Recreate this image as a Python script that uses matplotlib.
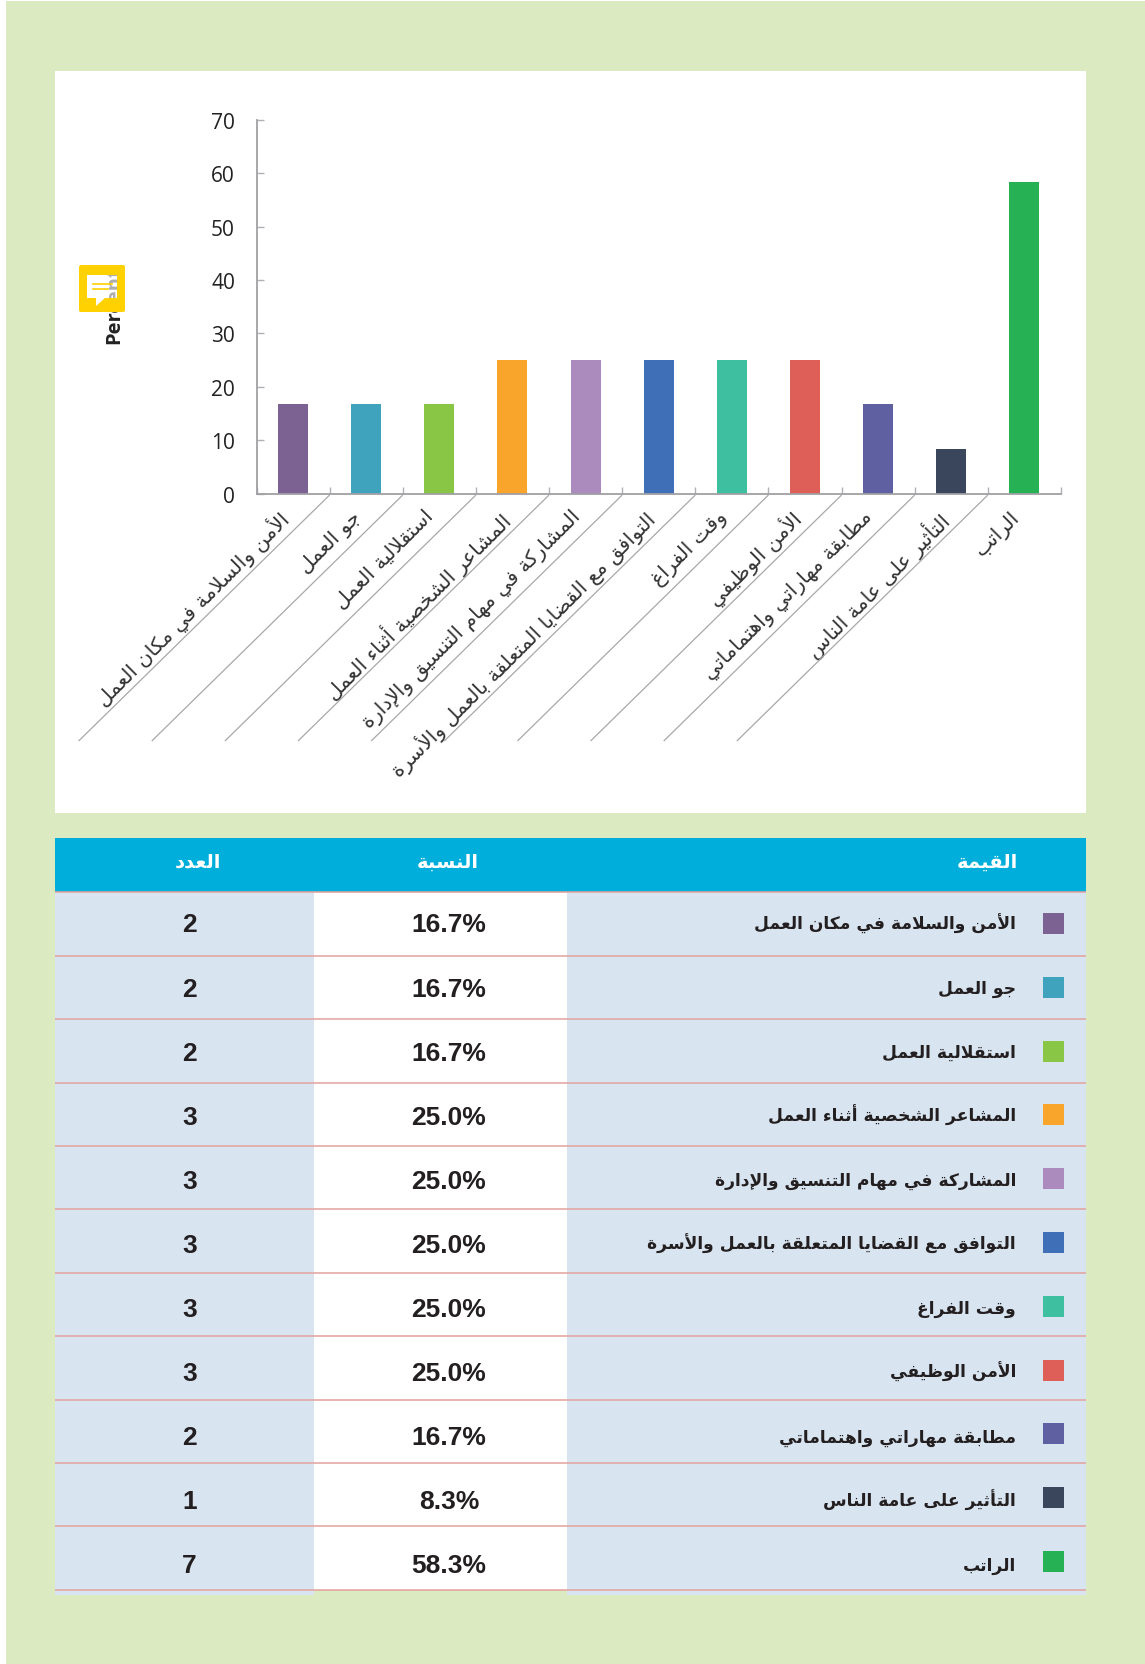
# Bar chart and table of job satisfaction values (Arabic labels)

import matplotlib.pyplot as plt
from matplotlib.patches import FancyBboxPatch, Polygon, Rectangle

FIG_W = 1145
FIG_H = 1665

LABELS = [
    'الأمن والسلامة في مكان العمل',
    'جو العمل',
    'استقلالية العمل',
    'المشاعر الشخصية أثناء العمل',
    'المشاركة في مهام التنسيق والإدارة',
    'التوافق مع القضايا المتعلقة بالعمل والأسرة',
    'وقت الفراغ',
    'الأمن الوظيفي',
    'مطابقة مهاراتي واهتماماتي',
    'التأثير على عامة الناس',
    'الراتب',
]
PERCENT = [16.7, 16.7, 16.7, 25.0, 25.0, 25.0, 25.0, 25.0, 16.7, 8.3, 58.3]
COUNTS = [2, 2, 2, 3, 3, 3, 3, 3, 2, 1, 7]
COLORS = ['#7B6292', '#40A3BE', '#8AC645', '#F9A42B', '#AB8ABD', '#3F6FB7',
          '#3EBF9F', '#DE5F58', '#5F60A2', '#3A465C', '#26B254']
HEADERS = ['القيمة', 'النسبة', 'العدد']
Y_TICKS = [0, 10, 20, 30, 40, 50, 60, 70]

# letter: first code of its block in Arabic Presentation Forms-B, number of forms
FORMS = {
    'ء': (0xFE80, 1), 'آ': (0xFE81, 2), 'أ': (0xFE83, 2), 'إ': (0xFE87, 2),
    'ا': (0xFE8D, 2), 'ب': (0xFE8F, 4), 'ة': (0xFE93, 2), 'ت': (0xFE95, 4),
    'ث': (0xFE99, 4), 'ج': (0xFE9D, 4), 'ح': (0xFEA1, 4), 'خ': (0xFEA5, 4),
    'د': (0xFEA9, 2), 'ذ': (0xFEAB, 2), 'ر': (0xFEAD, 2), 'ز': (0xFEAF, 2),
    'س': (0xFEB1, 4), 'ش': (0xFEB5, 4), 'ص': (0xFEB9, 4), 'ض': (0xFEBD, 4),
    'ط': (0xFEC1, 4), 'ظ': (0xFEC5, 4), 'ع': (0xFEC9, 4), 'غ': (0xFECD, 4),
    'ف': (0xFED1, 4), 'ق': (0xFED5, 4), 'ك': (0xFED9, 4), 'ل': (0xFEDD, 4),
    'م': (0xFEE1, 4), 'ن': (0xFEE5, 4), 'ه': (0xFEE9, 4), 'و': (0xFEED, 2),
    'ى': (0xFEEF, 2), 'ي': (0xFEF1, 4),
}
LAM_ALEF = {'آ': 0xFEF5, 'أ': 0xFEF7, 'إ': 0xFEF9, 'ا': 0xFEFB}


def shape(text):
    # matplotlib does no Arabic shaping, so pick the joined forms by hand
    out = []
    i = 0
    joins_prev = False
    while i < len(text):
        ch = text[i]
        if ch not in FORMS:
            out.append(ch)
            joins_prev = False
            i += 1
            continue
        if ch == 'ل' and i + 1 < len(text) and text[i + 1] in LAM_ALEF:
            out.append(chr(LAM_ALEF[text[i + 1]] + (1 if joins_prev else 0)))
            joins_prev = False
            i += 2
            continue
        start, n = FORMS[ch]
        joins_next = n == 4 and i + 1 < len(text) and text[i + 1] in FORMS
        if n == 1:
            code = start
        elif joins_prev and joins_next:
            code = start + 3
        elif joins_next:
            code = start + 2
        elif joins_prev:
            code = start + 1
        else:
            code = start
        out.append(chr(code))
        joins_prev = joins_next
        i += 1
    return ''.join(reversed(out))


def create():
    fig = plt.figure(figsize=(FIG_W / 100, FIG_H / 100), dpi=100, facecolor='white')

    # page in pixel coordinates
    page = fig.add_axes([0, 0, 1, 1], zorder=0)
    page.set_xlim(0, FIG_W)
    page.set_ylim(FIG_H, 0)
    page.axis('off')
    page.add_patch(Rectangle((6, 2), FIG_W - 6, FIG_H - 2, color='#DCEAC1', lw=0))
    page.add_patch(Rectangle((55, 71.5), 1031, 742.5, color='white', lw=0))

    # bar chart
    left, right, top, bottom = 256.5, 1061, 120.7, 494.7
    ax = fig.add_axes([left / FIG_W, 1 - bottom / FIG_H, (right - left) / FIG_W, (bottom - top) / FIG_H],
                      zorder=1)
    ax.patch.set_alpha(0)
    positions = [i + 0.5 for i in range(len(LABELS))]
    ax.bar(positions, PERCENT, width=0.41, color=COLORS)
    ax.set_xlim(0, len(LABELS))
    ax.set_ylim(0, 70)
    ax.spines['top'].set_visible(False)
    ax.spines['right'].set_visible(False)
    for side in ['left', 'bottom']:
        ax.spines[side].set_color('#A0A0A4')
        ax.spines[side].set_linewidth(1.3)
    ax.set_yticks(Y_TICKS)
    ax.set_xticks(range(len(LABELS) + 1))
    ax.set_xticklabels([])
    ax.tick_params(axis='x', direction='in', length=5, width=1, color='#B0B0B4')
    ax.tick_params(axis='y', direction='in', length=5, width=1, color='#B0B0B4', pad=15.5,
                   labelsize=15, labelcolor='#222222')
    for tick in ax.get_yticklabels():
        tick.set_fontfamily('Open Sans')

    for pos, label in zip(positions, LABELS):
        ax.annotate(shape(label), xy=(pos, 0), xytext=(-11, -9), textcoords='offset points',
                    rotation=45, rotation_mode='anchor', ha='right', va='top',
                    fontsize=14.7, color='#333333', family='DejaVu Sans')

    # everything on top of the chart, pixel coordinates again
    over = fig.add_axes([0, 0, 1, 1], zorder=2)
    over.set_xlim(0, FIG_W)
    over.set_ylim(FIG_H, 0)
    over.axis('off')

    # slanted leader lines from the category ticks
    step = (right - left) / len(LABELS)
    for i in range(1, len(LABELS)):
        x = left + i * step
        over.plot([x, x - 251], [496, 742], color='#A8A8A8', lw=0.9, solid_capstyle='butt')

    # axis title, mostly hidden behind the note icon
    over.text(119, 344, 'Percent', rotation=90, ha='left', va='baseline', rotation_mode='anchor',
              fontsize=14.5, fontweight='bold', family='Open Sans', color='#222222', zorder=3)
    over.add_patch(FancyBboxPatch((80, 267), 44, 45, boxstyle='round,pad=1,rounding_size=2',
                                  fc='#FFD100', ec='none', zorder=4))
    bubble = Polygon([(87, 276), (117, 276), (117, 299), (105, 299), (96, 307), (96, 299), (87, 299)],
                     closed=True, fc='white', ec='none', zorder=5)
    over.add_patch(bubble)
    # the part of the title that shows through the bubble
    ghost = over.text(119, 344, 'Percent', rotation=90, ha='left', va='baseline', rotation_mode='anchor',
                      fontsize=14.5, fontweight='bold', family='Open Sans', color='#AEAEAE', zorder=6)
    ghost.set_clip_path(Rectangle((87, 276), 30, 23, transform=over.transData))
    ghost.set_clip_on(True)
    over.plot([93, 112], [285, 285], color='#FFD100', lw=1.2, zorder=7)
    over.plot([93, 108], [290, 290], color='#FFD100', lw=1.2, zorder=7)

    # table
    tab_l, col1, col2, tab_r = 55, 314, 567, 1085.5
    head_top, head_bot = 839, 893.3
    row_h = 63.4
    n = len(LABELS)
    page.add_patch(Rectangle((tab_l, head_top), tab_r - tab_l, head_bot - head_top, color='#00AEDB', lw=0))
    table_bot = head_bot + n * row_h
    page.add_patch(Rectangle((tab_l, head_bot), col1 - tab_l, table_bot + 5 - head_bot, color='#D8E4F0', lw=0))
    page.add_patch(Rectangle((col1, head_bot), col2 - col1, table_bot - head_bot, color='white', lw=0))
    page.add_patch(Rectangle((col2, head_bot), tab_r - col2, table_bot + 5 - head_bot, color='#D8E4F0', lw=0))
    for i in range(n + 1):
        y = head_bot + i * row_h
        over.plot([tab_l, tab_r], [y, y], color='#E3A29C', lw=1.1, solid_capstyle='butt')

    over.text(1018, 862, shape(HEADERS[0]), ha='right', va='center', color='white',
              fontsize=14, fontweight='bold', family='DejaVu Sans')
    over.text(448, 862, shape(HEADERS[1]), ha='center', va='center', color='white',
              fontsize=14, fontweight='bold', family='DejaVu Sans')
    over.text(198, 862, shape(HEADERS[2]), ha='center', va='center', color='white',
              fontsize=14, fontweight='bold', family='DejaVu Sans')

    for i in range(n):
        y = 924 + 64.1 * i
        over.text(189.5, y + 8.5, str(COUNTS[i]), ha='center', va='baseline', fontsize=19,
                  fontweight='bold', family='Liberation Sans', color='#231F20')
        over.text(449, y + 8.5, f'{PERCENT[i]:.1f}%', ha='center', va='baseline', fontsize=19,
                  fontweight='bold', family='Liberation Sans', color='#231F20')
        over.text(1016, y + 5.5, shape(LABELS[i]), ha='right', va='baseline', fontsize=12.3,
                  fontweight='bold', family='DejaVu Sans', color='#231F20')
        sy = 924.5 + 63.8 * i
        over.add_patch(Rectangle((1043, sy - 10.5), 21, 21, color=COLORS[i], lw=0))

    fig.savefig('out.png', dpi=100, facecolor='white')


if __name__ == "__main__":
    create()
